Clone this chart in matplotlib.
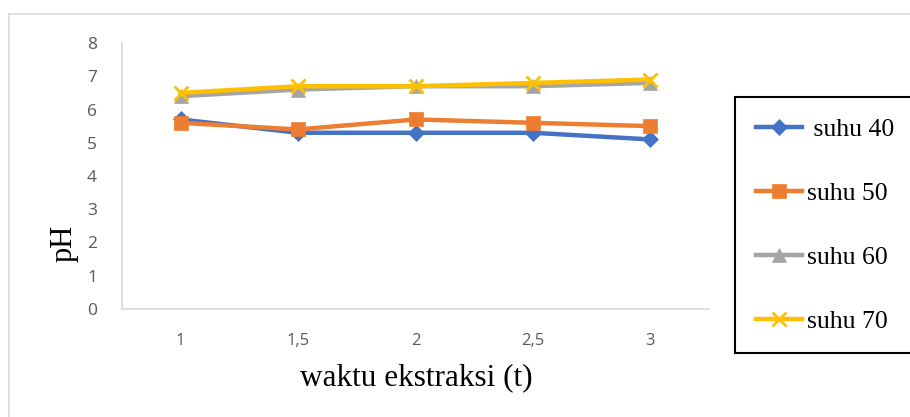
import matplotlib.pyplot as plt
from matplotlib.lines import Line2D

# extraction time (categories) and pH per temperature
waktu = ["1", "1,5", "2", "2,5", "3"]
suhu_40 = [5.7, 5.3, 5.3, 5.3, 5.1]
suhu_50 = [5.6, 5.4, 5.7, 5.6, 5.5]
suhu_60 = [6.4, 6.6, 6.7, 6.7, 6.8]
suhu_70 = [6.5, 6.7, 6.7, 6.8, 6.9]
y_ticks = [0, 1, 2, 3, 4, 5, 6, 7, 8]

W, H = 910, 417
fig = plt.figure(figsize=(W / 100, H / 100), dpi=100)

# light outer chart frame
frame_col = "#d9d9d9"
fig.add_artist(Line2D([9 / W, 9 / W], [0, 1 - 14 / H], color=frame_col, lw=1.2))
fig.add_artist(Line2D([9 / W, 1], [1 - 14 / H, 1 - 14 / H], color=frame_col, lw=1.2))

ax = fig.add_axes([122 / W, 1 - 309 / H, (709 - 122) / W, (309 - 43) / H])
x = list(range(len(waktu)))

series = [
    ("suhu 40", suhu_40, "#4472c4", "D", 8.5),
    ("suhu 50", suhu_50, "#ed7d31", "s", 10.5),
    ("suhu 60", suhu_60, "#a5a5a5", "^", 10.5),
    ("suhu 70", suhu_70, "#ffc000", "x", 10.5),
]
for name, vals, col, mk, ms in series:
    label = " " + name if name == "suhu 40" else name
    ax.plot(x, vals, color=col, lw=3.2, marker=mk, markersize=ms,
            markeredgewidth=2.0 if mk == "x" else 0.5, markeredgecolor=col,
            label=label)

ax.set_xlim(-0.5, len(waktu) - 0.5)
ax.set_ylim(0, 8)
ax.set_xticks(x)
ax.set_xticklabels(waktu, fontsize=12, color="#595959", family="Open Sans")
ax.set_yticks(y_ticks)
ax.set_yticklabels([str(t) for t in y_ticks], fontsize=12.5, color="#595959", family="Open Sans")
ax.tick_params(length=0)
ax.tick_params(axis="x", pad=17)
ax.tick_params(axis="y", pad=18)

for side in ["top", "right"]:
    ax.spines[side].set_visible(False)
for side in ["left", "bottom"]:
    ax.spines[side].set_color(frame_col)
    ax.spines[side].set_linewidth(1.2)

fig.text(64 / W, 1 - 243 / H, "pH", rotation=90, ha="center", va="center",
         family="Liberation Serif", fontsize=22)
fig.text(416 / W, 1 - 378 / H, "waktu ekstraksi (t)", ha="center", va="center",
         family="Liberation Serif", fontsize=22.5)

leg = fig.legend(loc="upper left", bbox_to_anchor=(735 / W, 1 - 97 / H),
                 prop={"family": "Liberation Serif", "size": 18.5},
                 handlelength=1.8, handletextpad=0.2, labelspacing=1.6,
                 borderpad=0.8, fancybox=False, framealpha=1,
                 borderaxespad=0)
leg.get_frame().set_edgecolor("black")
leg.get_frame().set_linewidth(1.5)

fig.savefig("out.png", dpi=100)
